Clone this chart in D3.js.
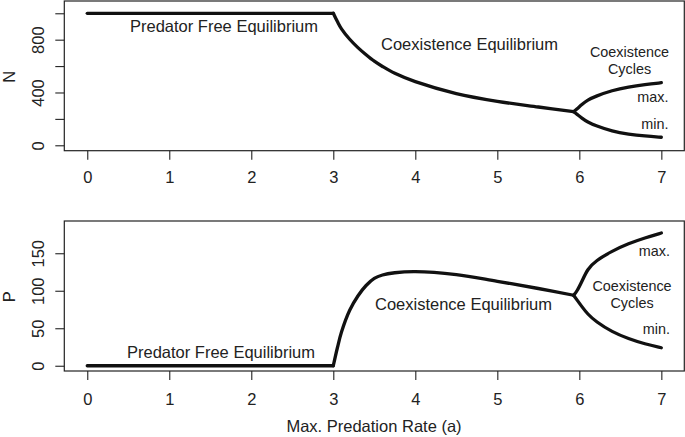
<!DOCTYPE html>
<html>
<head>
<meta charset="utf-8">
<script src="https://cdn.jsdelivr.net/npm/d3@7"></script>
<style>
  html, body { margin: 0; padding: 0; background: #fff; }
  svg { display: block; }
  text { font-family: "Liberation Sans", Arial, Helvetica, sans-serif; fill: #222; }
</style>
</head>
<body>
<svg id="chart" width="685" height="437"></svg>
<script>
// ---------- data ----------
const xTicks = [0, 1, 2, 3, 4, 5, 6, 7];
const nTicks = [0, 200, 400, 600, 800, 1000];
const nTickLabels = ["0", "", "400", "", "800", ""];
const pTicks = [0, 50, 100, 150];
const pTickLabels = ["0", "50", "100", "150"];

// predator free equilibrium
const aFree = [0, 3];
const nFree = [1000, 1000];
const pFree = [0, 0];

// coexistence equilibrium
const aEq = [3.0, 3.05, 3.1, 3.2, 3.3, 3.4, 3.5, 3.6, 3.75, 4, 4.5, 5, 5.5, 5.93];
const nEq = [1000, 937, 882, 803, 740, 686, 637, 597, 545, 482, 392, 333, 290, 255];
const pEq = [0, 24, 45, 74, 93, 107, 116.5, 121, 124, 125.5, 121.5, 112.5, 103, 94];

// coexistence cycles (max / min)
const aCyc = [5.93, 5.97, 6.03, 6.1, 6.2, 6.4, 6.6, 6.8, 7.0];
const nMax = [255, 275, 308, 343, 372, 416, 442, 460, 474];
const nMin = [255, 236, 206, 176, 148, 105, 84, 70, 61];
const pMax = [94, 99, 112, 129, 140, 153, 163, 170.5, 177];
const pMin = [94, 88, 79, 69, 59, 45, 36, 29, 24];

// ---------- drawing ----------
const svg = d3.select("#chart");
const FS = 16.5, FS2 = 14.4;
const x = d3.scaleLinear().domain([-0.28, 7.28]).range([64.3, 684.3]);

const panels = [
  { y: d3.scaleLinear().domain([-41, 1093]).range([150.7, 1]),
    ticks: nTicks, labels: nTickLabels, title: "N", titleY: 76.7,
    free: nFree, eq: nEq, max: nMax, min: nMin, xLabOff: 32.6 },
  { y: d3.scaleLinear().domain([-7, 193]).range([371, 221]),
    ticks: pTicks, labels: pTickLabels, title: "P", titleY: 296.7,
    free: pFree, eq: pEq, max: pMax, min: pMin, xLabOff: 34 }
];

panels.forEach(p => {
  const [yb, yt] = p.y.range();
  // x axis
  const gx = svg.append("g").attr("transform", `translate(0,${yb})`)
    .call(d3.axisBottom(x).tickValues(xTicks).tickSize(9).tickFormat(d3.format("d")));
  gx.select(".domain").remove();
  gx.selectAll("line").attr("stroke", "#222").attr("stroke-width", 1.1);
  gx.selectAll("text").attr("y", p.xLabOff).attr("dy", 0)
    .style("font-size", FS + "px").attr("fill", "#222");

  // y axis
  const gy = svg.append("g").attr("transform", `translate(${x.range()[0]},0)`)
    .call(d3.axisLeft(p.y).tickValues(p.ticks).tickSize(9)
      .tickFormat((d, i) => p.labels[i]));
  gy.select(".domain").remove();
  gy.selectAll("line").attr("stroke", "#222").attr("stroke-width", 1.1);
  gy.selectAll("text").attr("x", 0).attr("y", 0).attr("dy", 0)
    .attr("transform", "translate(-20,0) rotate(-90)")
    .attr("text-anchor", "middle")
    .style("font-size", FS + "px").attr("fill", "#222");

  // box
  svg.append("rect")
    .attr("x", x.range()[0]).attr("y", yt)
    .attr("width", x.range()[1] - x.range()[0]).attr("height", yb - yt)
    .attr("fill", "none").attr("stroke", "#222").attr("stroke-width", 1.2);

  // axis title
  svg.append("text")
    .attr("transform", `translate(15,${p.titleY}) rotate(-90)`)
    .attr("text-anchor", "middle").style("font-size", FS + "px").text(p.title);

  // curves
  const lineLin = d3.line().x(d => x(d[0])).y(d => p.y(d[1]));
  const lineEq = d3.line().x(d => x(d[0])).y(d => p.y(d[1])).curve(d3.curveCatmullRom.alpha(0.5));
  const lineCyc = d3.line().x(d => x(d[0])).y(d => p.y(d[1])).curve(d3.curveBasis);
  const series = [
    { a: aFree, v: p.free, gen: lineLin },
    { a: aEq, v: p.eq, gen: lineEq },
    { a: aCyc, v: p.max, gen: lineCyc },
    { a: aCyc, v: p.min, gen: lineCyc }
  ];
  series.forEach(s => {
    svg.append("path")
      .attr("d", s.gen(s.a.map((a, i) => [a, s.v[i]])))
      .attr("fill", "none").attr("stroke", "#111")
      .attr("stroke-width", 3.3).attr("stroke-linecap", "round")
      .attr("stroke-linejoin", "round");
  });
});

// annotations
const notes = [
  // top panel
  { t: "Predator Free Equilibrium", x: 224, y: 31.7, a: "middle", s: FS },
  { t: "Coexistence Equilibrium", x: 381, y: 50, a: "start", s: FS },
  { t: "Coexistence", x: 629.5, y: 57.3, a: "middle", s: FS2 },
  { t: "Cycles", x: 629.5, y: 73.5, a: "middle", s: FS2 },
  { t: "max.", x: 668.5, y: 101.7, a: "end", s: FS2 },
  { t: "min.", x: 668.5, y: 129.3, a: "end", s: FS2 },
  // bottom panel
  { t: "Predator Free Equilibrium", x: 221, y: 358.3, a: "middle", s: FS },
  { t: "Coexistence Equilibrium", x: 375, y: 310, a: "start", s: FS },
  { t: "max.", x: 670, y: 256, a: "end", s: FS2 },
  { t: "Coexistence", x: 632, y: 291, a: "middle", s: FS2 },
  { t: "Cycles", x: 632, y: 307.5, a: "middle", s: FS2 },
  { t: "min.", x: 670, y: 334.3, a: "end", s: FS2 }
];
notes.forEach(n => {
  svg.append("text").attr("x", n.x).attr("y", n.y)
    .attr("text-anchor", n.a).style("font-size", n.s + "px").text(n.t);
});

// x axis title
svg.append("text").attr("x", 374).attr("y", 431.7)
  .attr("text-anchor", "middle").style("font-size", FS + "px")
  .text("Max. Predation Rate (a)");
</script>
</body>
</html>
